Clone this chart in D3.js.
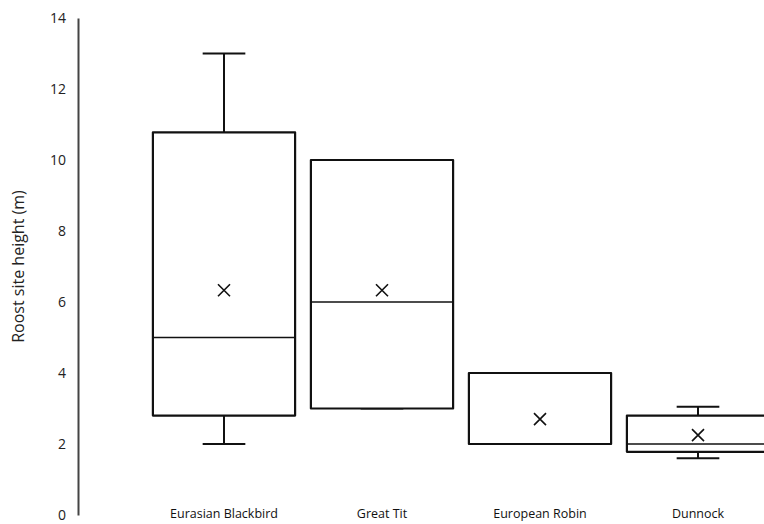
<!DOCTYPE html>
<html lang="en">
<head>
    <meta charset="UTF-8">
    <title>roost height</title>
    <script src="https://d3js.org/d3.v7.min.js"></script>
    <style>
        html, body {
            padding: 0;
            margin: 0;
            background-color: white;
            font-family: "Open Sans", sans-serif;
        }
    </style>
</head>
<body>
<script>
    // данные
    const categories = ["Eurasian Blackbird", "Great Tit", "European Robin", "Dunnock"];
    const mins = [2.0, 3.0, 2.0, 1.6];
    const q1s = [2.8, 3.0, 2.0, 1.78];
    const medians = [5.0, 6.0, 2.0, 2.0];
    const q3s = [10.78, 10.0, 4.0, 2.8];
    const maxs = [13.0, 10.0, 4.0, 3.05];
    const means = [6.33, 6.33, 2.7, 2.25];
    const yTicks = [0, 2, 4, 6, 8, 10, 12, 14];

    const width = 764;
    const height = 524;

    const rows = categories.map((c, i) => ({
        name: c, min: mins[i], q1: q1s[i], median: medians[i],
        q3: q3s[i], max: maxs[i], mean: means[i]
    }));

    const svg = d3.select("body")
        .append("svg")
        .attr("width", width)
        .attr("height", height)
        .style("display", "block");

    const x = d3.scaleBand()
        .domain(categories)
        .range([145, 777])
        .paddingInner(0.1)
        .paddingOuter(0.05);

    const y = d3.scaleLinear()
        .domain([0, 14])
        .range([515, 18]);

    // ось Y: только линия и подписи
    const yAxis = svg.append("g")
        .attr("transform", "translate(78,0)")
        .call(d3.axisLeft(y).tickValues(yTicks).tickSize(0).tickPadding(12));
    yAxis.select(".domain")
        .attr("stroke", "#444")
        .attr("stroke-width", 2);
    yAxis.selectAll("text")
        .attr("font-family", "Open Sans, sans-serif")
        .attr("font-size", 14)
        .attr("fill", "#222");

    svg.append("text")
        .attr("transform", `translate(24,${(y(0) + y(14)) / 2}) rotate(-90)`)
        .attr("text-anchor", "middle")
        .attr("font-family", "Open Sans, sans-serif")
        .attr("font-size", 16)
        .attr("fill", "#222")
        .text("Roost site height (m)");

    // подписи категорий
    svg.append("g")
        .selectAll("text")
        .data(categories)
        .join("text")
        .attr("x", d => x(d) + x.bandwidth() / 2)
        .attr("y", 518)
        .attr("text-anchor", "middle")
        .attr("font-family", "Open Sans, sans-serif")
        .attr("font-size", 12.5)
        .attr("fill", "#111")
        .text(d => d);

    const cap = x.bandwidth() * 0.15;

    const box = svg.append("g")
        .selectAll("g")
        .data(rows)
        .join("g")
        .attr("stroke", "#111")
        .attr("fill", "none");

    // усы
    box.append("line")
        .attr("x1", d => x(d.name) + x.bandwidth() / 2)
        .attr("x2", d => x(d.name) + x.bandwidth() / 2)
        .attr("y1", d => y(d.q3))
        .attr("y2", d => y(d.max))
        .attr("stroke-width", 2);
    box.append("line")
        .attr("x1", d => x(d.name) + x.bandwidth() / 2)
        .attr("x2", d => x(d.name) + x.bandwidth() / 2)
        .attr("y1", d => y(d.q1))
        .attr("y2", d => y(d.min))
        .attr("stroke-width", 2);
    box.append("line")
        .attr("x1", d => x(d.name) + x.bandwidth() / 2 - cap)
        .attr("x2", d => x(d.name) + x.bandwidth() / 2 + cap)
        .attr("y1", d => y(d.max))
        .attr("y2", d => y(d.max))
        .attr("stroke-width", 2);
    box.append("line")
        .attr("x1", d => x(d.name) + x.bandwidth() / 2 - cap)
        .attr("x2", d => x(d.name) + x.bandwidth() / 2 + cap)
        .attr("y1", d => y(d.min))
        .attr("y2", d => y(d.min))
        .attr("stroke-width", 2);

    // коробки
    box.append("rect")
        .attr("x", d => x(d.name))
        .attr("width", x.bandwidth())
        .attr("y", d => y(d.q3))
        .attr("height", d => y(d.q1) - y(d.q3))
        .attr("fill", "white")
        .attr("stroke-width", 2.2)
        .attr("stroke-linejoin", "round");

    // медианы
    box.append("line")
        .attr("x1", d => x(d.name))
        .attr("x2", d => x(d.name) + x.bandwidth())
        .attr("y1", d => y(d.median))
        .attr("y2", d => y(d.median))
        .attr("stroke-width", 1.6);

    // средние (крестик)
    const m = 6;
    box.append("path")
        .attr("d", d => {
            const cx = x(d.name) + x.bandwidth() / 2;
            const cy = y(d.mean);
            return `M${cx - m},${cy - m}L${cx + m},${cy + m}M${cx - m},${cy + m}L${cx + m},${cy - m}`;
        })
        .attr("stroke-width", 1.6);
</script>
</body>
</html>
